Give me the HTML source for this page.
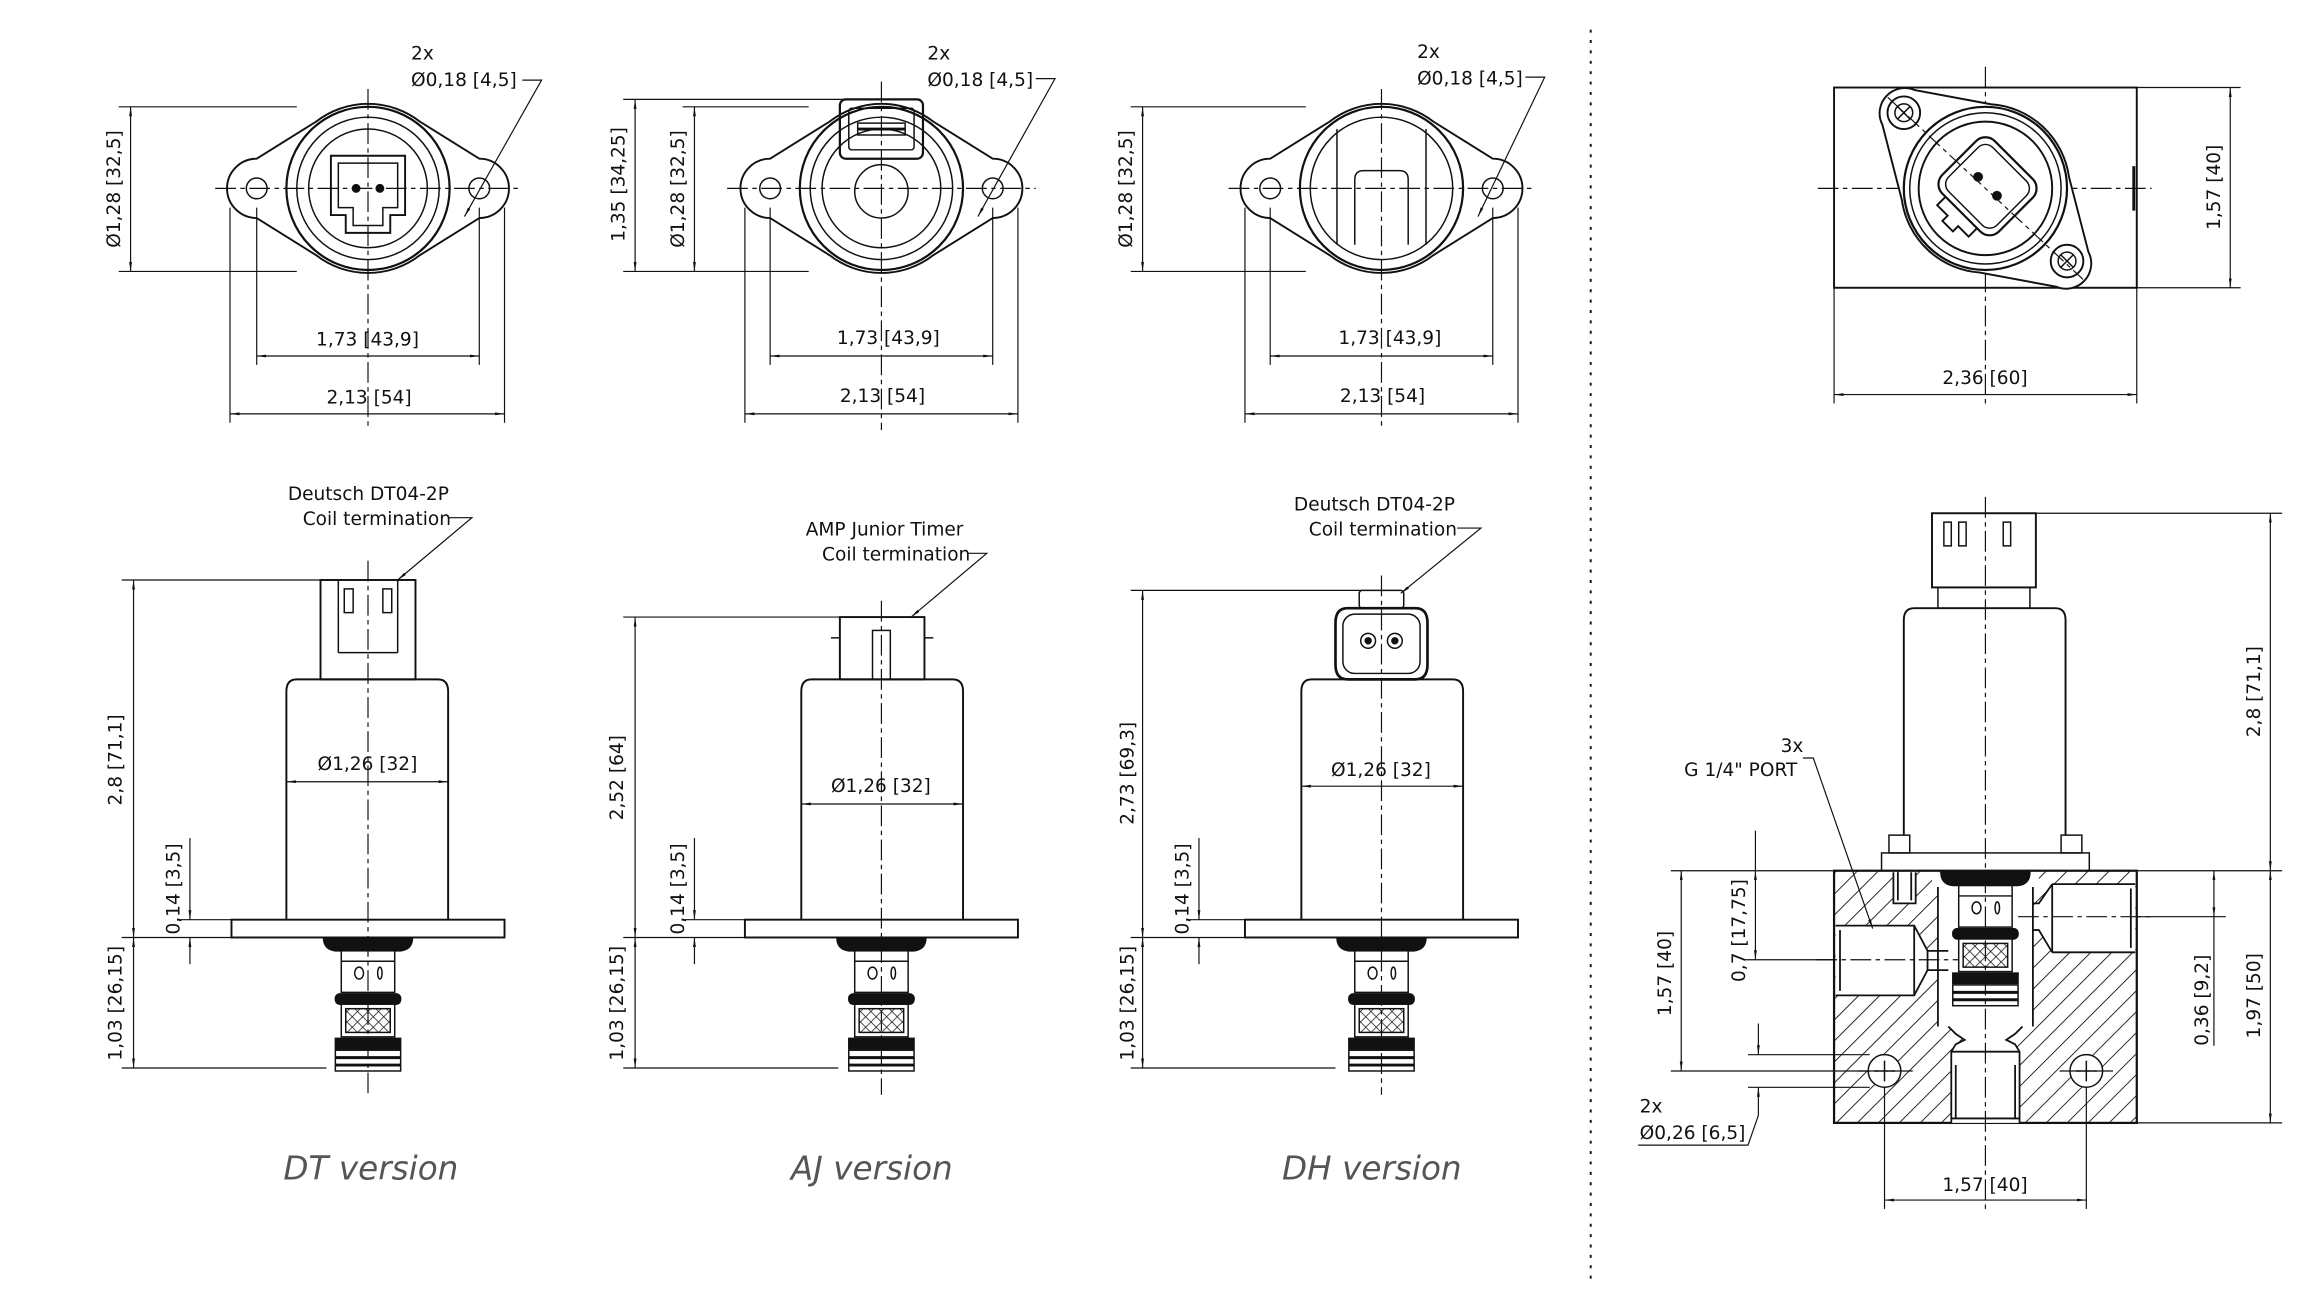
<!DOCTYPE html>
<html><head><meta charset="utf-8"><style>
html,body{margin:0;padding:0;background:#fff;}
svg{display:block;}
text{font-family:"DejaVu Sans","Liberation Sans",sans-serif;font-size:12.5px;fill:#111;}
.v{font-family:"DejaVu Sans","Liberation Sans",sans-serif;font-style:italic;font-size:22px;fill:#555;}
</style></head><body>
<svg width="2300" height="1292" viewBox="0 0 1550 871" preserveAspectRatio="none" xmlns="http://www.w3.org/2000/svg">
<defs>
<marker id="a" viewBox="0 0 10 10" refX="10" refY="5" markerWidth="8" markerHeight="8" orient="auto-start-reverse"><path d="M0,3.5 L10,5 L0,6.5z" fill="#111"/></marker>
<pattern id="h" width="10" height="10" patternUnits="userSpaceOnUse" patternTransform="rotate(45)"><line x1="0" y1="0" x2="0" y2="10" stroke="#111" stroke-width="1.2"/></pattern>
<pattern id="x" width="5" height="5" patternUnits="userSpaceOnUse" patternTransform="rotate(45)"><rect width="5" height="5" fill="#fff"/><path d="M0,0 V5 M0,0 H5" stroke="#111" stroke-width="1"/></pattern>
<g id="cart">
<path d="M-30,0 H30 Q30,8 22,9 H-22 Q-30,8 -30,0z" fill="#111"/>
<rect x="-18" y="9" width="36" height="28" fill="#fff" stroke="#111"/>
<line x1="-18" y1="16" x2="18" y2="16" stroke="#111"/>
<ellipse cx="-6" cy="24" rx="3" ry="4" fill="none" stroke="#111"/>
<ellipse cx="8" cy="24" rx="1.5" ry="4" fill="none" stroke="#111"/>
<rect x="-22" y="38" width="44" height="7" rx="3" fill="#111"/>
<rect x="-18" y="45" width="36" height="22" fill="#fff" stroke="#111"/>
<rect x="-15" y="48" width="30" height="16" fill="url(#x)" stroke="#111"/>
<rect x="-22" y="68" width="44" height="7" fill="#111"/>
<rect x="-22" y="76" width="44" height="14" fill="#fff" stroke="#111"/>
<line x1="-22" y1="81" x2="22" y2="81" stroke="#111" stroke-width="2"/>
<line x1="-22" y1="86" x2="22" y2="86" stroke="#111" stroke-width="2"/>
</g>
<g id="flangeTop">
<path d="M-75,-20 L-35,-45 A57,57 0 0 1 35,-45 L75,-20 A20,20 0 0 1 75,20 L35,45 A57,57 0 0 1 -35,45 L-75,20 A20,20 0 0 1 -75,-20z" fill="none" stroke="#111" stroke-width="1.3"/>
<circle r="55" fill="none" stroke="#111" stroke-width="1.5"/>
<circle r="48" fill="none" stroke="#111"/>
<circle cx="-75" r="7" fill="none" stroke="#111"/>
<circle cx="75" r="7" fill="none" stroke="#111"/>
</g>
</defs>
<g stroke="#111" fill="none" stroke-width="1">

<g transform="translate(248,127)">
<use href="#flangeTop"/>
<circle r="40"/>
<path d="M-25,-22 H25 V18 H15 V30 H-15 V18 H-25z" stroke-width="1.3"/>
<path d="M-20,-17 H20 V13 H10 V25 H-10 V13 H-20z"/>
<circle cx="-8" r="2.5" fill="#111"/><circle cx="8" r="2.5" fill="#111"/>
</g>
<g transform="translate(594,127)">
<use href="#flangeTop"/>
<circle r="40"/>
<circle cy="2" r="18"/>
<rect x="-28" y="-60" width="56" height="40" rx="4" stroke-width="1.5"/>
<rect x="-22" y="-54" width="44" height="28" rx="2"/>
<rect x="-16" y="-44" width="32" height="8"/>
<line x1="-16" y1="-40" x2="16" y2="-40" stroke-width="2"/>
</g>
<g transform="translate(931,127)">
<use href="#flangeTop"/>
<path d="M-30,-40 L-30,38 M30,-40 L30,38"/>
<path d="M-18,38 V-6 Q-18,-12 -12,-12 H12 Q18,-12 18,-6 V38"/>
</g>
<g stroke-dasharray="14,3,3,3" stroke-width="0.8">
<line x1="145" y1="127" x2="352" y2="127"/><line x1="248" y1="60" x2="248" y2="290"/>
<line x1="490" y1="127" x2="698" y2="127"/><line x1="594" y1="55" x2="594" y2="290"/>
<line x1="828" y1="127" x2="1035" y2="127"/><line x1="931" y1="60" x2="931" y2="290"/>
<line x1="1225" y1="127" x2="1450" y2="127"/><line x1="1338" y1="45" x2="1338" y2="275"/>
</g>
<g stroke-width="0.8">
<line x1="80" y1="72" x2="200" y2="72"/><line x1="80" y1="183" x2="200" y2="183"/>
<line x1="88" y1="72" x2="88" y2="183" marker-start="url(#a)" marker-end="url(#a)"/>
<line x1="173" y1="140" x2="173" y2="246"/><line x1="323" y1="140" x2="323" y2="246"/>
<line x1="173" y1="240" x2="323" y2="240" marker-start="url(#a)" marker-end="url(#a)"/>
<line x1="155" y1="140" x2="155" y2="285"/><line x1="340" y1="140" x2="340" y2="285"/>
<line x1="155" y1="279" x2="340" y2="279" marker-start="url(#a)" marker-end="url(#a)"/>
<polyline points="352,54 365,54 313,146" marker-end="url(#a)"/>
<line x1="420" y1="67" x2="570" y2="67"/><line x1="420" y1="183" x2="545" y2="183"/><line x1="460" y1="72" x2="545" y2="72"/>
<line x1="428" y1="67" x2="428" y2="183" marker-start="url(#a)" marker-end="url(#a)"/>
<line x1="468" y1="72" x2="468" y2="183" marker-start="url(#a)" marker-end="url(#a)"/>
<line x1="519" y1="140" x2="519" y2="246"/><line x1="669" y1="140" x2="669" y2="246"/>
<line x1="519" y1="240" x2="669" y2="240" marker-start="url(#a)" marker-end="url(#a)"/>
<line x1="502" y1="140" x2="502" y2="285"/><line x1="686" y1="140" x2="686" y2="285"/>
<line x1="502" y1="279" x2="686" y2="279" marker-start="url(#a)" marker-end="url(#a)"/>
<polyline points="698,53 711,53 659,146" marker-end="url(#a)"/>
<line x1="762" y1="72" x2="880" y2="72"/><line x1="762" y1="183" x2="880" y2="183"/>
<line x1="770" y1="72" x2="770" y2="183" marker-start="url(#a)" marker-end="url(#a)"/>
<line x1="856" y1="140" x2="856" y2="246"/><line x1="1006" y1="140" x2="1006" y2="246"/>
<line x1="856" y1="240" x2="1006" y2="240" marker-start="url(#a)" marker-end="url(#a)"/>
<line x1="839" y1="140" x2="839" y2="285"/><line x1="1023" y1="140" x2="1023" y2="285"/>
<line x1="839" y1="279" x2="1023" y2="279" marker-start="url(#a)" marker-end="url(#a)"/>
<polyline points="1028,52 1041,52 996,146" marker-end="url(#a)"/>
</g>
<rect x="1236" y="59" width="204" height="135" stroke-width="1.3"/>
<g transform="translate(1338,127) rotate(-47)">
<path d="M-16,-80 A17,17 0 0 1 16,-80 L44,-36 A57,57 0 0 1 44,36 L16,80 A17,17 0 0 1 -16,80 L-44,36 A57,57 0 0 1 -44,-36z" fill="#fff" stroke-width="1.3"/>
<line x1="0" y1="-90" x2="0" y2="90" stroke-dasharray="10,3,3,3" stroke-width="0.8"/>
</g>
<circle cx="1283" cy="76" r="11" stroke-width="1.3"/><circle cx="1283" cy="76" r="6"/>
<path d="M1279,72 L1287,80 M1287,72 L1279,80"/>
<circle cx="1393" cy="176" r="11" stroke-width="1.3"/><circle cx="1393" cy="176" r="6"/>
<path d="M1389,172 L1397,180 M1397,172 L1389,180"/>
<circle cx="1338" cy="127" r="55" stroke-width="1.5"/>
<circle cx="1338" cy="127" r="51"/><circle cx="1338" cy="127" r="45" stroke-width="1.3"/>
<g transform="translate(1338,127) rotate(45)">
<rect x="-27" y="-27" width="54" height="50" rx="9" stroke-width="1.5"/>
<rect x="-23" y="-23" width="46" height="42" rx="7"/>
<path d="M-15,23 V31 H-5 V36 H5 V31 H15 V23" stroke-width="1.3"/>
<circle cx="-9" cy="-2" r="2.8" fill="#111"/><circle cx="9" cy="-2" r="2.8" fill="#111"/>
</g>
<line x1="1438" y1="112" x2="1438" y2="142" stroke-width="2"/>
<g stroke-width="0.8">
<line x1="1440" y1="59" x2="1510" y2="59"/><line x1="1440" y1="194" x2="1510" y2="194"/>
<line x1="1503" y1="59" x2="1503" y2="194" marker-start="url(#a)" marker-end="url(#a)"/>
<line x1="1236" y1="194" x2="1236" y2="272"/><line x1="1440" y1="194" x2="1440" y2="272"/>
<line x1="1236" y1="266" x2="1440" y2="266" marker-start="url(#a)" marker-end="url(#a)"/>
</g>

<rect x="216" y="391" width="64" height="67" stroke-width="1.3"/>
<rect x="232" y="397" width="6" height="16"/><rect x="258" y="397" width="6" height="16"/>
<line x1="228" y1="391" x2="228" y2="440"/><line x1="268" y1="391" x2="268" y2="440"/>
<line x1="228" y1="440" x2="268" y2="440"/>
<path d="M193,620 V466 Q193,458 200,458 H295 Q302,458 302,466 V620" stroke-width="1.3"/>
<rect x="156" y="620" width="184" height="12" stroke-width="1.3"/>
<use href="#cart" transform="translate(248,632)"/>
<rect x="566" y="416" width="57" height="42" stroke-width="1.3"/>
<line x1="560" y1="430" x2="566" y2="430"/><line x1="623" y1="430" x2="629" y2="430"/>
<rect x="588" y="425" width="12" height="33"/>
<path d="M540,620 V466 Q540,458 547,458 H642 Q649,458 649,466 V620" stroke-width="1.3"/>
<rect x="502" y="620" width="184" height="12" stroke-width="1.3"/>
<use href="#cart" transform="translate(594,632)"/>
<rect x="916" y="398" width="30" height="12" rx="2"/>
<path d="M908,410 H954 Q962,410 962,420 V448 Q962,458 954,458 H908 Q900,458 900,448 V420 Q900,410 908,410z" stroke-width="1.8"/>
<rect x="905" y="414" width="52" height="40" rx="8"/>
<circle cx="922" cy="432" r="5"/><circle cx="922" cy="432" r="2" fill="#111"/>
<circle cx="940" cy="432" r="5"/><circle cx="940" cy="432" r="2" fill="#111"/>
<path d="M877,620 V466 Q877,458 884,458 H979 Q986,458 986,466 V620" stroke-width="1.3"/>
<rect x="839" y="620" width="184" height="12" stroke-width="1.3"/>
<use href="#cart" transform="translate(931,632)"/>
<g stroke-dasharray="14,3,3,3" stroke-width="0.8">
<line x1="248" y1="378" x2="248" y2="738"/>
<line x1="594" y1="405" x2="594" y2="738"/>
<line x1="931" y1="388" x2="931" y2="738"/>
</g>
<g stroke-width="0.8">
<line x1="82" y1="391" x2="228" y2="391"/><line x1="82" y1="720" x2="220" y2="720"/>
<line x1="82" y1="632" x2="156" y2="632"/><line x1="120" y1="620" x2="156" y2="620"/>
<line x1="90" y1="391" x2="90" y2="632" marker-start="url(#a)" marker-end="url(#a)"/>
<line x1="90" y1="632" x2="90" y2="720" marker-start="url(#a)" marker-end="url(#a)"/>
<line x1="128" y1="565" x2="128" y2="620" marker-end="url(#a)"/>
<line x1="128" y1="650" x2="128" y2="632" marker-end="url(#a)"/>
<line x1="193" y1="527" x2="302" y2="527" marker-start="url(#a)" marker-end="url(#a)"/>
<polyline points="302,349 318,349 268,391" marker-end="url(#a)"/>
<line x1="420" y1="416" x2="568" y2="416"/><line x1="420" y1="720" x2="565" y2="720"/>
<line x1="420" y1="632" x2="502" y2="632"/><line x1="460" y1="620" x2="502" y2="620"/>
<line x1="428" y1="416" x2="428" y2="632" marker-start="url(#a)" marker-end="url(#a)"/>
<line x1="428" y1="632" x2="428" y2="720" marker-start="url(#a)" marker-end="url(#a)"/>
<line x1="468" y1="565" x2="468" y2="620" marker-end="url(#a)"/>
<line x1="468" y1="650" x2="468" y2="632" marker-end="url(#a)"/>
<line x1="540" y1="542" x2="649" y2="542" marker-start="url(#a)" marker-end="url(#a)"/>
<polyline points="652,373 665,373 614,416" marker-end="url(#a)"/>
<line x1="762" y1="398" x2="918" y2="398"/><line x1="762" y1="720" x2="900" y2="720"/>
<line x1="762" y1="632" x2="839" y2="632"/><line x1="800" y1="620" x2="839" y2="620"/>
<line x1="770" y1="398" x2="770" y2="632" marker-start="url(#a)" marker-end="url(#a)"/>
<line x1="770" y1="632" x2="770" y2="720" marker-start="url(#a)" marker-end="url(#a)"/>
<line x1="808" y1="565" x2="808" y2="620" marker-end="url(#a)"/>
<line x1="808" y1="650" x2="808" y2="632" marker-end="url(#a)"/>
<line x1="877" y1="530" x2="986" y2="530" marker-start="url(#a)" marker-end="url(#a)"/>
<polyline points="982,356 998,356 944,400" marker-end="url(#a)"/>
</g>

<rect x="1302" y="346" width="70" height="50" stroke-width="1.3"/>
<rect x="1306" y="396" width="62" height="14"/>
<rect x="1310" y="352" width="5" height="16"/><rect x="1320" y="352" width="5" height="16"/><rect x="1350" y="352" width="5" height="16"/>
<path d="M1283,563 V418 Q1283,410 1290,410 H1385 Q1392,410 1392,418 V563" stroke-width="1.3"/>
<rect x="1273" y="563" width="14" height="12"/><rect x="1389" y="563" width="14" height="12"/>
<rect x="1268" y="575" width="140" height="12"/>
<rect x="1236" y="587" width="204" height="170" fill="url(#h)" stroke-width="1.5"/>
<g fill="#fff" stroke="none">
<rect x="1237" y="624" width="53" height="47"/>
<polygon points="1290,624 1299,641 1313,641 1313,654 1299,654 1290,671"/>
<rect x="1302" y="588" width="72" height="10"/>
<rect x="1306" y="596" width="64" height="96"/>
<polygon points="1313,692 1363,692 1358,697 1352,701 1358,704 1361,709 1361,757 1315,757 1315,709 1318,704 1324,701 1318,697"/>
<rect x="1383" y="596" width="56" height="46"/>
<polygon points="1383,596 1374,609 1370,612 1370,624 1374,627 1383,642"/>
<rect x="1276" y="588" width="15" height="21"/>
</g>
<g stroke-width="1.2">
<path d="M1237,624 H1290 V671 H1237 M1240,627 V668 M1237,671 H1290"/>
<path d="M1290,624 L1299,641 H1313 M1290,671 L1299,654 H1313 M1299,641 V654"/>
<path d="M1306,598 V692 M1370,598 V692"/>
<path d="M1383,596 H1439 M1383,642 H1439 M1383,596 V642 M1436,599 V639 M1383,596 L1374,609 H1370 M1383,642 L1374,627 H1370"/>
<path d="M1313,692 L1318,697 L1324,701 L1318,704 L1315,709 V757 M1363,692 L1358,697 L1352,701 L1358,704 L1361,709 V757 M1315,709 H1361 M1318,718 V754 M1358,718 V754 M1315,754 H1361"/>
<path d="M1276,588 V609 H1291 V588 M1279,588 V607 M1288,588 V607"/>
</g>
<use href="#cart" transform="translate(1338,588)"/>
<circle cx="1270" cy="722" r="11" fill="#fff"/><circle cx="1406" cy="722" r="11" fill="#fff"/>
<path d="M1263,722 H1277 M1270,715 V729 M1399,722 H1413 M1406,715 V729"/>
<g stroke-dasharray="14,3,3,3" stroke-width="0.8">
<line x1="1338" y1="335" x2="1338" y2="815"/>
<line x1="1224" y1="647" x2="1320" y2="647"/>
<line x1="1360" y1="618" x2="1450" y2="618"/>
<line x1="1252" y1="722" x2="1290" y2="722"/><line x1="1388" y1="722" x2="1424" y2="722"/>
</g>
<g stroke-width="0.8">
<line x1="1372" y1="346" x2="1538" y2="346"/><line x1="1440" y1="587" x2="1538" y2="587"/><line x1="1440" y1="757" x2="1538" y2="757"/>
<line x1="1530" y1="346" x2="1530" y2="587" marker-start="url(#a)" marker-end="url(#a)"/>
<line x1="1530" y1="587" x2="1530" y2="757" marker-start="url(#a)" marker-end="url(#a)"/>
<line x1="1440" y1="618" x2="1500" y2="618"/>
<line x1="1492" y1="587" x2="1492" y2="618" marker-start="url(#a)" marker-end="url(#a)"/>
<line x1="1492" y1="618" x2="1492" y2="705"/>
<line x1="1126" y1="587" x2="1236" y2="587"/><line x1="1126" y1="722" x2="1260" y2="722"/>
<line x1="1133" y1="587" x2="1133" y2="722" marker-start="url(#a)" marker-end="url(#a)"/>
<line x1="1175" y1="647" x2="1237" y2="647"/>
<line x1="1183" y1="587" x2="1183" y2="647" marker-start="url(#a)" marker-end="url(#a)"/>
<line x1="1183" y1="587" x2="1183" y2="560"/>
<line x1="1178" y1="711" x2="1260" y2="711"/><line x1="1178" y1="733" x2="1260" y2="733"/>
<line x1="1185" y1="690" x2="1185" y2="711" marker-end="url(#a)"/>
<line x1="1185" y1="752" x2="1185" y2="733" marker-end="url(#a)"/>
<polyline points="1104,772 1178,772 1185,752"/>
<line x1="1270" y1="733" x2="1270" y2="815"/><line x1="1406" y1="733" x2="1406" y2="815"/>
<line x1="1270" y1="809" x2="1406" y2="809" marker-start="url(#a)" marker-end="url(#a)"/>
<polyline points="1215,511 1222,511 1262,626" marker-end="url(#a)"/>
</g>
<line x1="1072" y1="20" x2="1072" y2="862" stroke-dasharray="2,5" stroke-width="1.3"/>
</g>

<text x="277" y="40">2x</text><text x="277" y="58">Ø0,18 [4,5]</text>
<text x="625" y="40">2x</text><text x="625" y="58">Ø0,18 [4,5]</text>
<text x="955" y="39">2x</text><text x="955" y="57">Ø0,18 [4,5]</text>
<text x="213" y="233">1,73 [43,9]</text><text x="220" y="272">2,13 [54]</text>
<text x="564" y="232">1,73 [43,9]</text><text x="566" y="271">2,13 [54]</text>
<text x="902" y="232">1,73 [43,9]</text><text x="903" y="271">2,13 [54]</text>
<text x="1309" y="259">2,36 [60]</text>
<text transform="translate(81,167) rotate(-90)">Ø1,28 [32,5]</text>
<text transform="translate(421,163) rotate(-90)">1,35 [34,25]</text>
<text transform="translate(461,167) rotate(-90)">Ø1,28 [32,5]</text>
<text transform="translate(763,167) rotate(-90)">Ø1,28 [32,5]</text>
<text transform="translate(1496,155) rotate(-90)">1,57 [40]</text>

<text x="194" y="337">Deutsch DT04-2P</text><text x="204" y="354">Coil termination</text>
<text x="543" y="361">AMP Junior Timer</text><text x="554" y="378">Coil termination</text>
<text x="872" y="344">Deutsch DT04-2P</text><text x="882" y="361">Coil termination</text>
<text x="214" y="519">Ø1,26 [32]</text>
<text x="560" y="534">Ø1,26 [32]</text>
<text x="897" y="523">Ø1,26 [32]</text>
<text transform="translate(82,543) rotate(-90)">2,8 [71,1]</text>
<text transform="translate(82,715) rotate(-90)">1,03 [26,15]</text>
<text transform="translate(121,630) rotate(-90)">0,14 [3,5]</text>
<text transform="translate(420,553) rotate(-90)">2,52 [64]</text>
<text transform="translate(420,715) rotate(-90)">1,03 [26,15]</text>
<text transform="translate(461,630) rotate(-90)">0,14 [3,5]</text>
<text transform="translate(764,556) rotate(-90)">2,73 [69,3]</text>
<text transform="translate(764,715) rotate(-90)">1,03 [26,15]</text>
<text transform="translate(801,630) rotate(-90)">0,14 [3,5]</text>
<text transform="translate(1523,497) rotate(-90)">2,8 [71,1]</text>
<text transform="translate(1523,700) rotate(-90)">1,97 [50]</text>
<text transform="translate(1488,705) rotate(-90)">0,36 [9,2]</text>
<text transform="translate(1126,685) rotate(-90)">1,57 [40]</text>
<text transform="translate(1176,662) rotate(-90)">0,7 [17,75]</text>
<text x="1200" y="507">3x</text><text x="1135" y="523">G 1/4" PORT</text>
<text x="1105" y="750">2x</text><text x="1105" y="768">Ø0,26 [6,5]</text>
<text x="1309" y="803">1,57 [40]</text>

<text class="v" x="191" y="795">DT version</text>
<text class="v" x="533" y="795">AJ version</text>
<text class="v" x="864" y="795">DH version</text>
</svg>
</body></html>
